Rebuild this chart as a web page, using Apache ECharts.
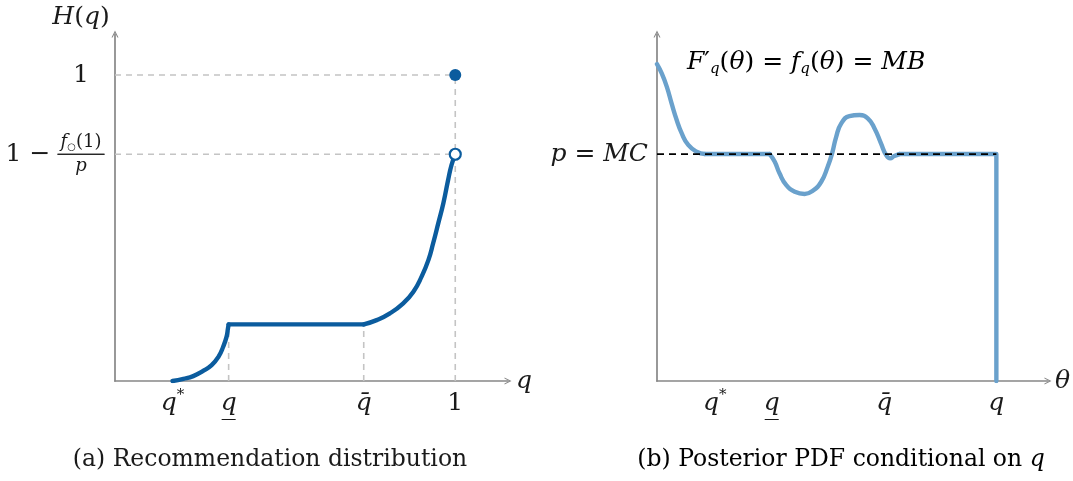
<!DOCTYPE html>
<html>
<head>
<meta charset="utf-8">
<script src="https://cdn.jsdelivr.net/npm/echarts@6/dist/echarts.min.js"></script>
<style>
  html, body { margin: 0; padding: 0; background: #fff; }
  #chart { width: 1073px; height: 481px; }
</style>
</head>
<body>
<div id="chart"></div>
<script>
// ---- data ----
// (a) left panel, x in units of q (1 = right end), y in units of H
const leftTicks = [0.169, 0.334, 0.731, 1];
const leftTickLabels = ['qstar', 'qlow', 'qbar', 'one'];
const leftLevels = [1, 0.741];          // H = 1 and H = 1 - f(1)/p
const leftFlat = 0.185;                  // height of the flat stretch
const leftCurveA = [[0.169, 0], [0.201, 0.007], [0.230, 0.016], [0.259, 0.033],
  [0.284, 0.052], [0.304, 0.079], [0.318, 0.112], [0.328, 0.145], [0.332, 0.172],
  [0.334, 0.185]];
const leftCurveB = [[0.731, 0.185], [0.769, 0.199], [0.808, 0.221], [0.847, 0.254],
  [0.877, 0.292], [0.901, 0.341], [0.921, 0.395], [0.935, 0.450], [0.950, 0.515],
  [0.965, 0.581], [0.979, 0.657], [0.989, 0.706], [1, 0.741]];

// (b) right panel, x in units of theta (q = 1), y in units of MC
const rightTicks = [0.170, 0.338, 0.670, 1];
const rightTickLabels = ['qstar', 'qlow', 'qbar', 'q'];
const mcLevel = 1;
const rightHead = [[0, 1.396], [0.014, 1.355], [0.029, 1.296], [0.043, 1.223],
  [0.058, 1.150], [0.073, 1.091], [0.092, 1.040], [0.117, 1.010], [0.141, 1.0]];
const rightFlat = [[0.141, 1.0], [0.332, 1.0]];
const rightWave = [[0.332, 1.0], [0.347, 0.966], [0.361, 0.915], [0.381, 0.863],
  [0.406, 0.834], [0.435, 0.824], [0.459, 0.838], [0.484, 0.878], [0.503, 0.944],
  [0.516, 1.003], [0.528, 1.076], [0.543, 1.135], [0.567, 1.167], [0.597, 1.172],
  [0.621, 1.157], [0.641, 1.113], [0.660, 1.047], [0.675, 0.996], [0.687, 0.981],
  [0.699, 0.991], [0.714, 1.0]];
const rightTail = [[0.714, 1.0], [1, 1.0], [1, 0]];

// ---- styling ----
const FONT = 'DejaVu Serif';
const INK = '#1a1a1a';
const AXIS = '#878787';
const GUIDE = '#c4c4c4';
const DARK = '#0b5c9e';
const LIGHT = '#6aa1cc';
const ARROW = 'path://M0,10 L5,0 L10,10 L8.4,10 L5,3.2 L1.6,10 Z';

const rich = {
  i: { fontFamily: FONT, fontStyle: 'italic', fontSize: 25, color: INK, lineHeight: 30 },
  m: { fontFamily: FONT, fontSize: 25, color: INK, lineHeight: 30 },
  sup: { fontFamily: FONT, fontSize: 15, color: INK, lineHeight: 30, verticalAlign: 'top' },
  sub: { fontFamily: FONT, fontStyle: 'italic', fontSize: 15, color: INK, lineHeight: 30, verticalAlign: 'bottom' },
  ul: { width: 14, height: 0, borderColor: INK, borderWidth: 1.1, lineHeight: 3 },
  fn: { fontFamily: FONT, fontStyle: 'italic', fontSize: 18, color: INK, lineHeight: 20 },
  fm: { fontFamily: FONT, fontSize: 18, color: INK, lineHeight: 20 },
  fs: { fontFamily: FONT, fontSize: 10, color: INK, lineHeight: 20, verticalAlign: 'bottom' },
  hr: { width: 47, height: 0, borderColor: INK, borderWidth: 1, lineHeight: 4 }
};

// styles for the formula in panel (b)
const richF = {
  i: { fontFamily: FONT, fontStyle: 'italic', fontSize: 25, color: INK, lineHeight: 30 },
  m: { fontFamily: FONT, fontSize: 25, color: INK, lineHeight: 30 },
  sub: { fontFamily: FONT, fontStyle: 'italic', fontSize: 15, color: INK, lineHeight: 30, verticalAlign: 'bottom' }
};

function tickText(key) {
  if (key === 'qstar') return '{i|q}{sup|*}';
  if (key === 'qlow') return '{i|q}\n{ul|}';
  if (key === 'qbar') return '{i|q\u0304}';
  if (key === 'one') return '{m|1}';
  return '{i|q}';
}

function axisLineStyle() {
  return {
    show: true, onZero: false,
    lineStyle: { color: AXIS, width: 1.7 },
    symbol: ['none', ARROW], symbolSize: [11, 7]
  };
}

function xAxisFor(gridIndex, max, ticks, labels, name, gap) {
  return {
    type: 'value', gridIndex: gridIndex, min: 0, max: max,
    axisLine: axisLineStyle(), axisTick: { show: false }, splitLine: { show: false },
    axisLabel: {
      customValues: ticks, margin: 7, verticalAlign: 'top', rich: rich,
      formatter: v => tickText(labels[ticks.indexOf(v)])
    },
    name: name, nameLocation: 'end', nameGap: gap,
    nameTextStyle: { rich: rich }
  };
}

function guide(points) {
  return {
    type: 'line', xAxisIndex: 0, yAxisIndex: 0, data: points, symbol: 'none',
    lineStyle: { color: GUIDE, width: 1.6, type: [6, 5] }, z: 1, silent: true
  };
}

function curve(points, xi, yi, color, smooth) {
  return {
    type: 'line', xAxisIndex: xi, yAxisIndex: yi, data: points, symbol: 'none',
    smooth: smooth ? 0.5 : false,
    lineStyle: { color: color, width: 4.4, cap: 'round', join: 'round' }, z: 3
  };
}

const leftXMax = 1.155, leftYMax = 1.134;
const rightXMax = 1.152, rightYMax = 1.529;
const qLow = leftTicks[1], qBar = leftTicks[2];

const option = {
  animation: false,
  backgroundColor: '#fff',
  grid: [
    { left: 115, top: 34, width: 393, height: 347 },
    { left: 657, top: 34, width: 392, height: 347 }
  ],
  xAxis: [
    xAxisFor(0, leftXMax, leftTicks, leftTickLabels, '{i|q}', 8),
    xAxisFor(1, rightXMax, rightTicks, rightTickLabels, '{i|θ}', 7)
  ],
  yAxis: [
    {
      type: 'value', gridIndex: 0, position: 'left', min: 0, max: leftYMax,
      axisLine: axisLineStyle(), axisTick: { show: false }, splitLine: { show: false },
      axisLabel: {
        customValues: leftLevels, margin: 34, align: 'center', rich: rich,
        formatter: v => v === 1 ? '{m|1}' : '{fn|f}{fs|○}{fm|(1)}\n{hr|}\n{fn|p}'
      },
      name: '{i|H}{m|(}{i|q}{m|)}', nameLocation: 'end', nameGap: 2,
      nameTextStyle: { rich: rich, align: 'center', padding: [0, 68, 0, 0] }
    },
    {
      type: 'value', gridIndex: 0, position: 'left', min: 0, max: leftYMax,
      axisLine: { show: false }, axisTick: { show: false }, splitLine: { show: false },
      axisLabel: {
        customValues: [leftLevels[1]], margin: 87, align: 'center', rich: rich,
        formatter: () => '{m|1 −}'
      }
    },
    {
      type: 'value', gridIndex: 1, position: 'left', min: 0, max: rightYMax,
      axisLine: axisLineStyle(), axisTick: { show: false }, splitLine: { show: false },
      axisLabel: {
        customValues: [mcLevel], margin: 9, rich: rich,
        formatter: () => '{i|p}{m| = }{i|MC}'
      }
    }
  ],
  series: [
    guide([[0, leftLevels[0]], [1, leftLevels[0]]]),
    guide([[0, leftLevels[1]], [1, leftLevels[1]]]),
    guide([[qLow, 0], [qLow, leftFlat]]),
    guide([[qBar, 0], [qBar, leftFlat]]),
    guide([[1, 0], [1, leftLevels[0]]]),
    curve(leftCurveA, 0, 0, DARK, true),
    curve([[qLow, leftFlat], [qBar, leftFlat]], 0, 0, DARK, false),
    curve(leftCurveB, 0, 0, DARK, true),
    {
      type: 'scatter', xAxisIndex: 0, yAxisIndex: 0, z: 5,
      data: [[1, leftLevels[0]]], symbol: 'circle', symbolSize: 12,
      itemStyle: { color: DARK, opacity: 1 }
    },
    {
      type: 'scatter', xAxisIndex: 0, yAxisIndex: 0, z: 5,
      data: [[1, leftLevels[1]]], symbol: 'circle', symbolSize: 11,
      itemStyle: { color: '#fff', borderColor: DARK, borderWidth: 2.2, opacity: 1 }
    },
    curve(rightHead, 1, 2, LIGHT, true),
    curve(rightFlat, 1, 2, LIGHT, false),
    curve(rightWave, 1, 2, LIGHT, true),
    curve(rightTail, 1, 2, LIGHT, false),
    {
      type: 'line', xAxisIndex: 1, yAxisIndex: 2, symbol: 'none', z: 6, silent: true,
      data: [[0, mcLevel], [1, mcLevel]],
      lineStyle: { color: '#000', width: 1.8, type: [7, 5] }
    }
  ],
  graphic: [
    {
      type: 'text', x: 687, y: 62,
      style: {
        text: '{i|F}{m|′}{sub|q}{m|(}{i|θ}{m|) = }{i|f}{sub|q}{m|(}{i|θ}{m|) = }{i|MB}',
        rich: richF, verticalAlign: 'middle', align: 'left'
      }
    },
    {
      type: 'text', x: 270, y: 460,
      style: {
        text: '(a) Recommendation distribution', fontFamily: FONT, fontSize: 23.5,
        fill: INK, align: 'center', verticalAlign: 'middle'
      }
    },
    {
      type: 'text', x: 841, y: 460,
      style: {
        text: '{c|(b) Posterior PDF conditional on }{ci|q}',
        rich: {
          c: { fontFamily: FONT, fontSize: 23.5, color: INK },
          ci: { fontFamily: FONT, fontSize: 23.5, fontStyle: 'italic', color: INK }
        },
        align: 'center', verticalAlign: 'middle'
      }
    }
  ]
};

const chart = echarts.init(document.getElementById('chart'), null, { renderer: 'canvas' });
chart.setOption(option);
</script>
</body>
</html>
